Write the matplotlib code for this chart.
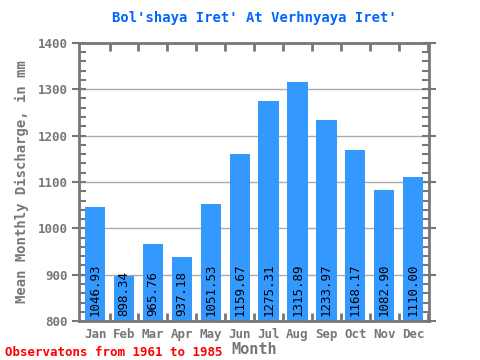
import matplotlib
matplotlib.use('Agg')
import matplotlib.pyplot as plt
import numpy as np
from matplotlib.ticker import MultipleLocator

months = ['Jan', 'Feb', 'Mar', 'Apr', 'May', 'Jun', 'Jul', 'Aug', 'Sep', 'Oct', 'Nov', 'Dec']
discharge = [1046.93, 898.34, 965.76, 937.18, 1051.53, 1159.67, 1275.31, 1315.89, 1233.97, 1168.17, 1082.90, 1110.00]

plt.rcParams['font.family'] = 'DejaVu Sans Mono'
grey = '#777777'

fig = plt.figure(figsize=(4.8, 3.6), dpi=100)
ax = fig.add_axes([0.165, 0.108, 0.729, 0.773])

x = np.arange(len(months))
ax.bar(x, discharge, width=0.7, color='#3399ff', zorder=2)
ax.set_ylim(800, 1400)
ax.set_xlim(-0.55, 11.55)
ax.yaxis.grid(True, color='#aaaaaa', linewidth=1, zorder=1)

# value labels, rotated, sitting at the bottom of each bar
for xi, v in zip(x, discharge):
    ax.text(xi, 810, f'{v:.2f}', rotation=90, ha='center', va='bottom',
            fontsize=9, color='black', zorder=3)

ax.set_xticks(x)
ax.set_xticklabels(months)
ax.set_xticks(x + 0.5, minor=True)
ax.yaxis.set_major_locator(MultipleLocator(100))
ax.yaxis.set_minor_locator(MultipleLocator(20))

ax.tick_params(axis='x', which='major', length=0, labelsize=9, labelcolor=grey, pad=5)
ax.tick_params(axis='x', which='minor', direction='in', length=6, width=2, color=grey, top=True, bottom=True)
ax.tick_params(axis='y', which='major', direction='inout', length=10, width=1.5, color=grey,
               labelsize=9, labelcolor=grey, right=True)
ax.tick_params(axis='y', which='minor', direction='in', length=5, width=1.5, color=grey, right=True)
for lab in ax.get_xticklabels() + ax.get_yticklabels():
    lab.set_fontweight('bold')

for s in ax.spines.values():
    s.set_color(grey)
    s.set_linewidth(2)

ax.set_title("Bol'shaya Iret' At Verhnyaya Iret'", color='#0066ff', fontsize=10,
             fontweight='bold', pad=15)
ax.set_xlabel('Month', color=grey, fontsize=11, fontweight='bold', labelpad=1)
ax.set_ylabel('Mean Monthly Discharge, in mm', color=grey, fontsize=10, fontweight='bold', labelpad=6)
fig.text(0.01, 0.01, 'Observatons from 1961 to 1985', color='red', fontsize=9, fontweight='bold')

plt.savefig('out.png', dpi=100)
